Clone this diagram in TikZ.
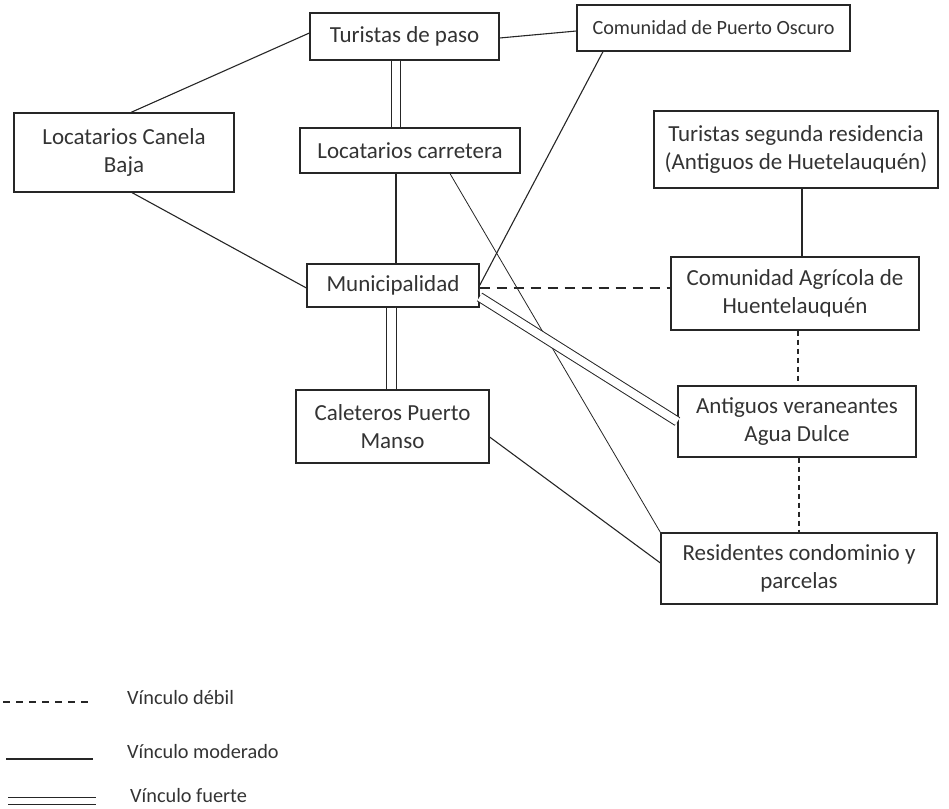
\documentclass[tikz,border=0pt]{standalone}
\usepackage{fontspec}
\setmainfont{Carlito}
\usetikzlibrary{calc}

\begin{document}
\begin{tikzpicture}[x=1pt, y=-1pt,
    box/.style={draw=black!85, line width=1.2pt, align=center, text=black!80, inner sep=0pt, font=\fontsize{23}{28}\selectfont},
    weak/.style={black!85, line width=1.1pt, dash pattern=on 6pt off 4pt},
    mid/.style={black!85, line width=1.1pt},
    thin/.style={black!85, line width=0.8pt},
    strong/.style={black!85, line width=1pt, double, double distance=8pt},
    legtext/.style={anchor=west, text=black!80, inner sep=0pt, font=\fontsize{20.3}{24}\selectfont}
]
\useasboundingbox (0,0) rectangle (949,808);

\node[box, minimum width=189pt, minimum height=47pt] (paso) at (404.5,36.5) {Turistas de paso};
\node[box, minimum width=273pt, minimum height=46pt, font=\fontsize{20.2}{24}\selectfont] (oscuro) at (713.5,28) {Comunidad de Puerto Oscuro};
\node[box, minimum width=220pt, minimum height=79pt] (canela) at (124,152.5) {Locatarios Canela\\Baja};
\node[box, minimum width=220pt, minimum height=45pt] (carretera) at (410,150.5) {Locatarios carretera};
\node[box, minimum width=284pt, minimum height=77pt] (segunda) at (796,149.5) {Turistas segunda residencia\\(Antiguos de Huetelauquén)};
\node[box, minimum width=172pt, minimum height=43pt] (muni) at (393,285.5) {Municipalidad};
\node[box, minimum width=248pt, minimum height=73pt] (agricola) at (795,293.5) {Comunidad Agrícola de\\Huentelauquén};
\node[box, minimum width=193pt, minimum height=73pt] (caleteros) at (392.5,426.5) {Caleteros Puerto\\Manso};
\node[box, minimum width=238pt, minimum height=71pt] (antiguos) at (797,421.5) {Antiguos veraneantes\\Agua Dulce};
\node[box, minimum width=276pt, minimum height=71pt] (residentes) at (799,568.5) {Residentes condominio y\\parcelas};

\draw[mid] ($(canela.north)+(7,0)$) -- ($(paso.west)+(0,-3.5)$);
\draw[mid] ($(paso.east)+(0,1.5)$) -- ($(oscuro.west)+(0,3)$);
\draw[strong] ($(paso.south)+(-8.5,0)$) -- ($(carretera.north)+(-14,0)$);
\draw[mid] ($(carretera.south)+(-14,0)$) -- ($(muni.north)+(3,0)$);
\draw[mid] ($(canela.south)+(8,0)$) -- ($(muni.west)+(0,2.5)$);
\draw[mid] ($(oscuro.south)+(-110.5,0)$) -- (muni.east);
\draw[thin] ($(carretera.south)+(40,0)$) -- (residentes.north west);
\draw[weak, dash pattern=on 10pt off 7pt] ($(muni.east)+(0,2.5)$) -- ($(agricola.west)+(0,-5.5)$);
\draw[strong] ($(muni.east)+(0,11.5)$) -- (antiguos.west);
\draw[strong, double distance=9pt] ($(muni.south)+(-2,0)$) -- ($(caleteros.north)+(-1.5,0)$);
\draw[mid] ($(caleteros.east)+(0,10.5)$) -- ($(residentes.west)+(0,-5.5)$);
\draw[mid] ($(segunda.south)+(6,0)$) -- ($(agricola.north)+(7,0)$);
\draw[weak, dash pattern=on 5pt off 4pt] ($(agricola.south)+(3,0)$) -- ($(antiguos.north)+(1,0)$);
\draw[weak, dash pattern=on 5pt off 4pt] ($(antiguos.south)+(2,0)$) -- (residentes.north);

\node[legtext] (ldebil) at (127,698) {Vínculo débil};
\node[legtext] (lmoderado) at (127,752) {Vínculo moderado};
\node[legtext] (lfuerte) at (130,796) {Vínculo fuerte};
\draw[weak, dash pattern=on 7pt off 6pt] (3,702) -- (90,702);
\draw[mid] (6,759) -- (93,759);
\draw[strong, double distance=6pt] (8,800.5) -- (96,800.5);
\end{tikzpicture}
\end{document}
